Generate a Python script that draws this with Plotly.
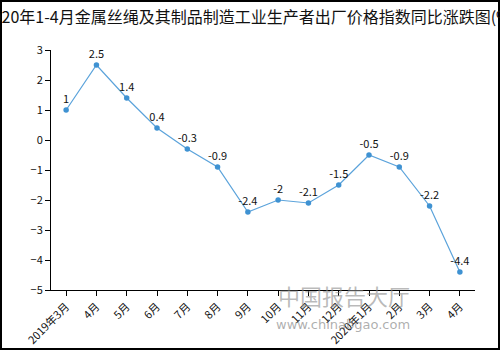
import plotly.graph_objects as go

# Monthly year-on-year change of producer ex-factory price index (%)
months = ["2019年3月", "4月", "5月", "6月", "7月", "8月", "9月", "10月",
          "11月", "12月", "2020年1月", "2月", "3月", "4月"]
values = [1, 2.5, 1.4, 0.4, -0.3, -0.9, -2.4, -2, -2.1, -1.5, -0.5, -0.9, -2.2, -4.4]
title_text = "2020年1-4月金属丝绳及其制品制造工业生产者出厂价格指数同比涨跌图(%)"

W, H = 500, 350
ML, MR, MT, MB = 51, 25, 50, 60
PW, PH = W - ML - MR, H - MT - MB

font_family = "Noto Sans CJK SC, Noto Sans, sans-serif"
positions = list(range(len(months)))

fig = go.Figure()
fig.add_trace(go.Scatter(
    x=positions, y=values,
    mode="lines+markers+text",
    line=dict(color="#5ba3db", width=1.2),
    marker=dict(color="#3f92d2", size=5.5),
    text=[f"{v:g}" for v in values],
    textposition="top center",
    textfont=dict(size=11, color="#111111", family=font_family),
    cliponaxis=False,
    hoverinfo="skip",
))

# outer frame around the whole canvas
x0 = -ML / PW
x1 = 1 + MR / PW
y0 = -MB / PH
y1 = 1 + MT / PH
fig.add_shape(type="rect", xref="paper", yref="paper",
              x0=x0 + 1 / PW, x1=x1 - 1 / PW, y0=y0 + 1 / PH, y1=y1 - 1 / PH,
              line=dict(color="#000000", width=2), layer="above")

# site watermark
fig.add_annotation(xref="paper", yref="paper", x=(412 - ML) / PW, y=(H - MB - 313) / PH,
                   text="中国报告大厅", showarrow=False,
                   font=dict(size=22, color="rgba(140,140,140,0.6)", family=font_family))
fig.add_annotation(xref="paper", yref="paper", x=(412 - ML) / PW, y=(H - MB - 334) / PH,
                   text="www.chinabgao.com", showarrow=False,
                   font=dict(size=13, color="rgba(120,120,120,0.6)", family="DejaVu Sans, sans-serif"))

fig.update_layout(
    width=W, height=H,
    margin=dict(l=ML, r=MR, t=MT, b=MB, autoexpand=False),
    paper_bgcolor="white", plot_bgcolor="white",
    showlegend=False,
    font=dict(family=font_family, color="#111111"),
    title=dict(text=title_text, x=0.5, xref="container", xanchor="center",
               y=1 - 17 / H, yref="container", yanchor="middle",
               font=dict(size=16, color="#111111", family=font_family)),
)
fig.update_xaxes(
    range=[-0.5, len(months) - 0.5], automargin=False,
    tickmode="array", tickvals=positions, ticktext=months,
    showline=True, linecolor="#000000", linewidth=1,
    ticks="outside", ticklen=5, tickcolor="#000000",
    tickangle=-45, tickfont=dict(size=11, color="#111111"),
    showgrid=False, zeroline=False,
)
fig.update_yaxes(
    range=[-5, 3], dtick=1, tick0=-5, automargin=False,
    showline=True, linecolor="#000000", linewidth=1,
    ticks="outside", ticklen=5, tickcolor="#000000",
    tickfont=dict(size=11, color="#111111"),
    showgrid=False, zeroline=False,
)

fig.write_html("out.html")
